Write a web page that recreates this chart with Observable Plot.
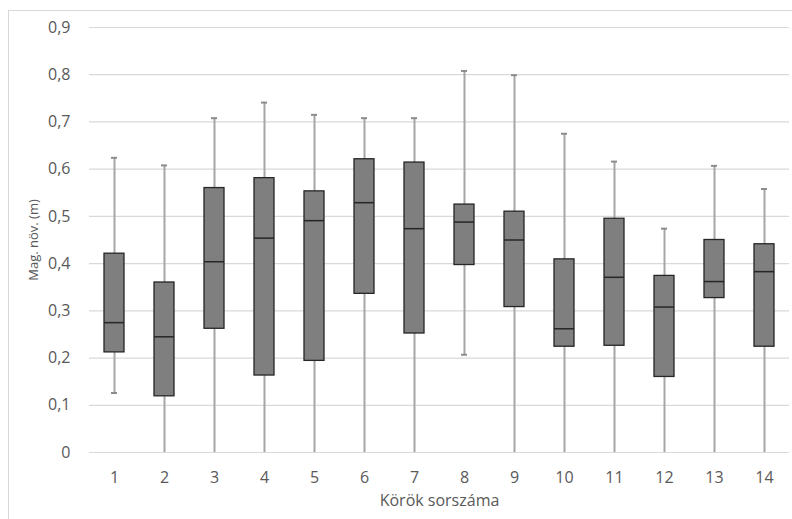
<!DOCTYPE html>
<html>
<head>
<meta charset="utf-8">
<script src="https://cdn.jsdelivr.net/npm/d3@7"></script>
<script src="https://cdn.jsdelivr.net/npm/@observablehq/plot@0.6"></script>
<style>
  html, body { margin: 0; padding: 0; background: #fff; }
  #wrap { position: relative; width: 792px; height: 519px; overflow: hidden; }
  #frame { position: absolute; left: 8px; top: 10px; width: 790px; height: 520px; border: 1px solid #d9d9d9; box-sizing: border-box; pointer-events: none; }
  #chart { position: absolute; left: 0; top: 0; }
</style>
</head>
<body>
<div id="wrap"><div id="frame"></div><div id="chart"></div></div>
<script>
const rounds      = ["1","2","3","4","5","6","7","8","9","10","11","12","13","14"];
const whiskerLow  = [0.126, 0, 0, 0, 0, 0, 0, 0.207, 0, 0, 0, 0, 0, 0];
const q1          = [0.212, 0.119, 0.262, 0.163, 0.194, 0.336, 0.252, 0.397, 0.308, 0.224, 0.226, 0.160, 0.327, 0.224];
const median      = [0.275, 0.245, 0.404, 0.454, 0.491, 0.529, 0.474, 0.488, 0.450, 0.262, 0.371, 0.308, 0.362, 0.383];
const q3          = [0.421, 0.360, 0.560, 0.581, 0.553, 0.621, 0.614, 0.525, 0.510, 0.409, 0.495, 0.374, 0.450, 0.441];
const whiskerHigh = [0.624, 0.608, 0.708, 0.741, 0.715, 0.708, 0.708, 0.808, 0.799, 0.675, 0.616, 0.474, 0.607, 0.558];
const yTicks      = [0, 0.1, 0.2, 0.3, 0.4, 0.5, 0.6, 0.7, 0.8, 0.9];
const yTickLabels = ["0", "0,1", "0,2", "0,3", "0,4", "0,5", "0,6", "0,7", "0,8", "0,9"];
const xTitle = "Körök sorszáma";
const yTitle = "Mag. növ. (m)";

const data = rounds.map((r, i) => ({
  round: r, lo: whiskerLow[i], q1: q1[i], med: median[i], q3: q3[i], hi: whiskerHigh[i]
}));
const lowCaps = data.filter(d => d.lo > 0);

const FONT = "Open Sans, Lato, sans-serif";
const TXT = "#595959";

const chart = Plot.plot({
  width: 792,
  height: 519,
  marginLeft: 89,
  marginRight: 3,
  marginTop: 27,
  marginBottom: 67,
  style: { fontFamily: FONT, background: "transparent", overflow: "visible" },
  x: { domain: rounds, paddingInner: 0.6, paddingOuter: 0.3, label: null },
  y: { domain: [0, 0.9], label: null },
  marks: [
    Plot.gridY(yTicks, { stroke: "#d9d9d9", strokeOpacity: 1, strokeWidth: 1.2 }),
    Plot.axisY(yTicks, {
      tickSize: 0, tickPadding: 19, fontSize: 16, fill: TXT,
      tickFormat: (d, i) => yTickLabels[yTicks.indexOf(d)], label: null
    }),
    Plot.axisX({ tickSize: 0, tickPadding: 19, fontSize: 16, fill: TXT, label: null }),
    Plot.ruleX(data, { x: "round", y1: "lo", y2: "hi", stroke: "#a6a6a6", strokeWidth: 2 }),
    Plot.tickY(data, { x: "round", y: "hi", stroke: "#8c8c8c", strokeWidth: 2, insetLeft: 7, insetRight: 7 }),
    Plot.tickY(lowCaps, { x: "round", y: "lo", stroke: "#8c8c8c", strokeWidth: 2, insetLeft: 7, insetRight: 7 }),
    Plot.barY(data, { x: "round", y1: "q1", y2: "q3", fill: "#7f7f7f", stroke: "#262626", strokeWidth: 1.3 }),
    Plot.tickY(data, { x: "round", y: "med", stroke: "#262626", strokeWidth: 1.5 }),
    Plot.text([yTitle], { frameAnchor: "left", dx: -56, rotate: -90, fontSize: 13, fill: TXT, textAnchor: "middle" }),
    Plot.text([xTitle], { frameAnchor: "bottom", dy: 53, fontSize: 16, fill: TXT, textAnchor: "middle" })
  ]
});
document.getElementById("chart").appendChild(chart);
</script>
</body>
</html>
